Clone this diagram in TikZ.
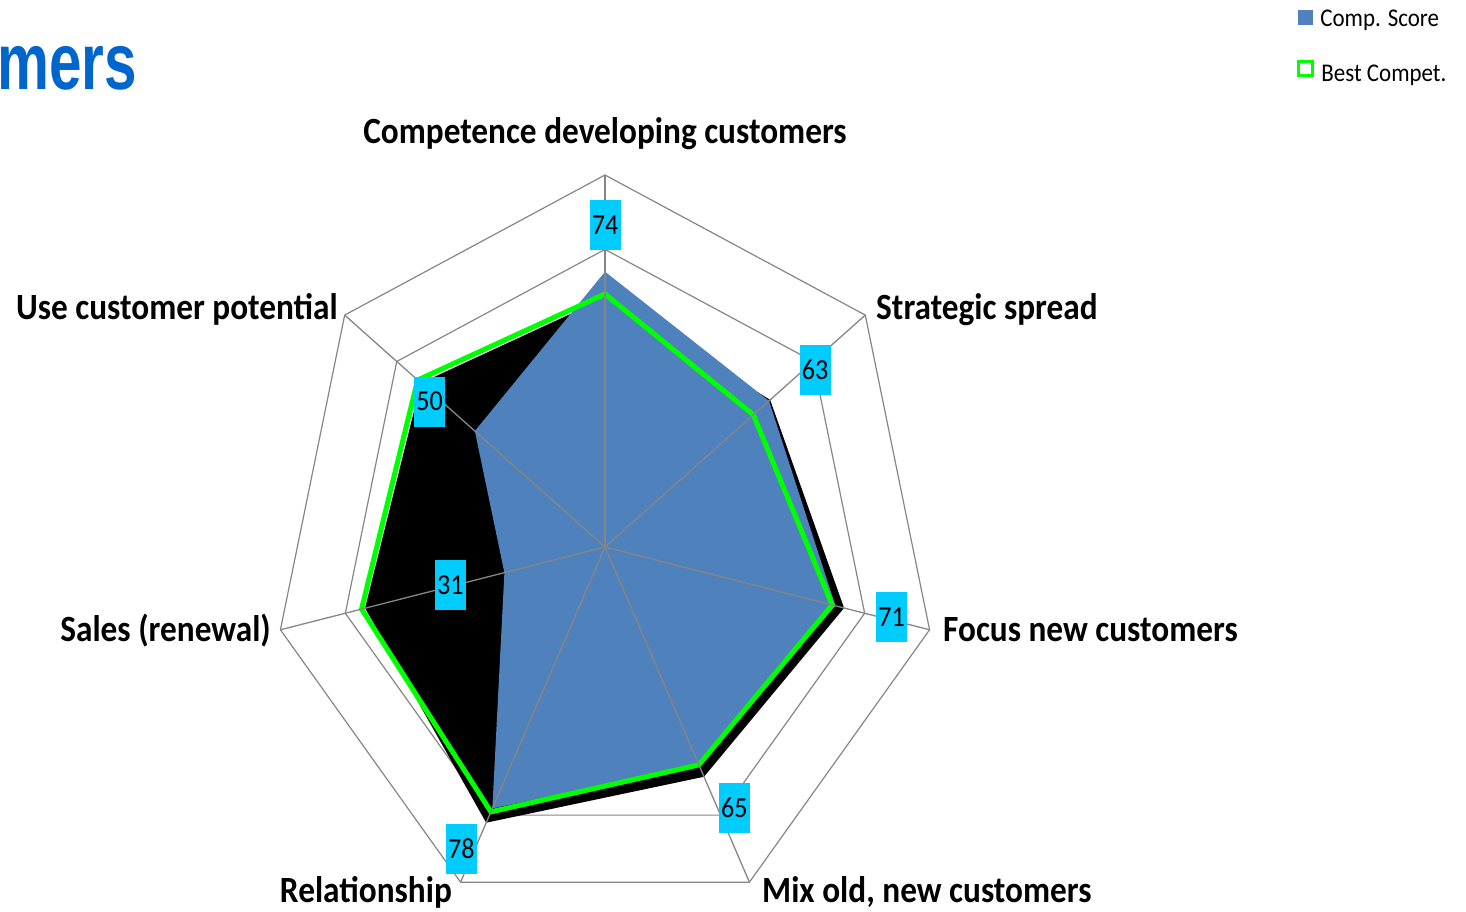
\documentclass[tikz,border=0pt]{standalone}
\usepackage{fontspec}
\setmainfont{Carlito}[FakeStretch=0.9]
\newfontfamily\titlefont{Liberation Sans}[FakeStretch=0.73]
\usetikzlibrary{positioning}

\definecolor{scoreblue}{RGB}{79,129,189}
\definecolor{bestgreen}{RGB}{0,255,0}
\definecolor{valcyan}{RGB}{0,204,255}
\definecolor{titleblue}{RGB}{0,102,204}
\definecolor{gridgray}{RGB}{134,134,134}

\tikzset{
  gridline/.style={draw=gridgray, line width=1.2pt},
  axisline/.style={draw=gridgray, line width=1.3pt},
  axislabel/.style={font=\fontsize{37}{42}\selectfont\bfseries, inner sep=0pt},
  valbox/.style={fill=valcyan, minimum width=31pt, minimum height=50pt, inner sep=0pt, font=\fontsize{29}{32}\selectfont},
  legtext/.style={font=\fontsize{25.5}{28}\selectfont, inner sep=0pt, anchor=west}
}

\begin{document}
\begin{tikzpicture}[x=1pt,y=1pt]
  \useasboundingbox (-605,-364) rectangle (861,547);

  \begin{scope}[xscale=0.895]
  % axis ends
  \coordinate (c) at (0,0);
  \coordinate (o1) at (90:372);
  \coordinate (o2) at (38.57:372);
  \coordinate (o3) at (-12.86:372);
  \coordinate (o4) at (-64.29:372);
  \coordinate (o5) at (-115.71:372);
  \coordinate (o6) at (-167.14:372);
  \coordinate (o7) at (141.43:372);

  % ring 80
  \coordinate (m1) at (90:297.6);
  \coordinate (m2) at (38.57:297.6);
  \coordinate (m3) at (-12.86:297.6);
  \coordinate (m4) at (-64.29:297.6);
  \coordinate (m5) at (-115.71:297.6);
  \coordinate (m6) at (-167.14:297.6);
  \coordinate (m7) at (141.43:297.6);

  % comp. score
  \coordinate (s1) at (90:275.3);
  \coordinate (s2) at (38.57:234.4);
  \coordinate (s3) at (-12.86:264.1);
  \coordinate (s4) at (-64.29:241.8);
  \coordinate (s5) at (-115.71:290.2);
  \coordinate (s6) at (-167.14:115.3);
  \coordinate (s7) at (141.43:186);

  % best compet.
  \coordinate (b1) at (90:253);
  \coordinate (b2) at (38.57:212);
  \coordinate (b3) at (-12.86:260.4);
  \coordinate (b4) at (-64.29:241.8);
  \coordinate (b5) at (-115.71:293.9);
  \coordinate (b6) at (-167.14:279);
  \coordinate (b7) at (141.43:267.8);

  % black area
  \coordinate (k1) at (90:249);
  \coordinate (k2) at (38.57:236);
  \coordinate (k3) at (-12.86:274);
  \coordinate (k4) at (-64.29:255);
  \coordinate (k5) at (-115.71:306);
  \coordinate (k6) at (-167.14:275);
  \coordinate (k7) at (141.43:263);
  \end{scope}

  %rings
  \draw[gridline] (o1) -- (o2) -- (o3) -- (o4) -- (o5) -- (o6) -- (o7) -- cycle;
  \draw[gridline] (m1) -- (m2) -- (m3) -- (m4) -- (m5) -- (m6) -- (m7) -- cycle;

  % black area
  \fill[black] (k1) -- (k2) -- (k3) -- (k4) -- (k5) -- (k6) -- (k7) -- cycle;

  % comp. score
  \fill[scoreblue] (s1) -- (s2) -- (s3) -- (s4) -- (s5) -- (s6) -- (s7) -- cycle;

  % best compet.
  \draw[bestgreen, line width=5pt] (b1) -- (b2) -- (b3) -- (b4) -- (b5) -- (b6) -- (b7) -- cycle;

  %spokes
  \draw[axisline] (c) -- (o1);
  \draw[axisline] (c) -- (o2);
  \draw[axisline] (c) -- (o3);
  \draw[axisline] (c) -- (o4);
  \draw[axisline] (c) -- (o5);
  \draw[axisline] (c) -- (o6);
  \draw[axisline] (c) -- (o7);

  % values
  \begin{scope}[xscale=0.895]
  \node[valbox] (v1) at (90:322) {74};
  \node[valbox] (v2) at (37:294) {63};
  \node[valbox] (v3) at (-12.4:328) {71};
  \node[valbox] (v4) at (-61:298) {65};
  \node[valbox] (v5) at (-118:342) {78};
  \node[valbox] (v6) at (-167.6:177) {31};
  \node[valbox] (v7) at (143.4:244) {50};
  \end{scope}

  % axis names
  \node[axislabel, anchor=base] (l1) at (0,403) {Competence developing customers};
  \node[axislabel, anchor=base west] (l2) at (271,228) {Strategic spread};
  \node[axislabel, anchor=base west] (l3) at (338,-94) {Focus new customers};
  \node[axislabel, anchor=base west] (l4) at (157,-355) {Mix old, new customers};
  \node[axislabel, anchor=base east] (l5) at (-153,-355) {Relationship};
  \node[axislabel, anchor=base east] (l6) at (-334,-94) {Sales (renewal)};
  \node[axislabel, anchor=base east] (l7) at (-267,228) {Use customer potential};

  %legend
  \node[fill=scoreblue, minimum size=15pt, inner sep=0pt] (key1) at (700.5,529.5) {};
  \node[legtext, right=7pt of key1, yshift=-3pt] (leg1) {Comp. Score};
  \node[draw=bestgreen, line width=3.5pt, minimum size=14pt, inner sep=0pt] (key2) at (700.5,478.5) {};
  \node[legtext, right=7pt of key2, yshift=-7pt] (leg2) {Best Compet.};

  %title
  \node[font=\titlefont\bfseries\fontsize{80}{80}\selectfont, text=titleblue, anchor=base east, inner sep=0pt] (title) at (-468,457) {mers};
\end{tikzpicture}
\end{document}
